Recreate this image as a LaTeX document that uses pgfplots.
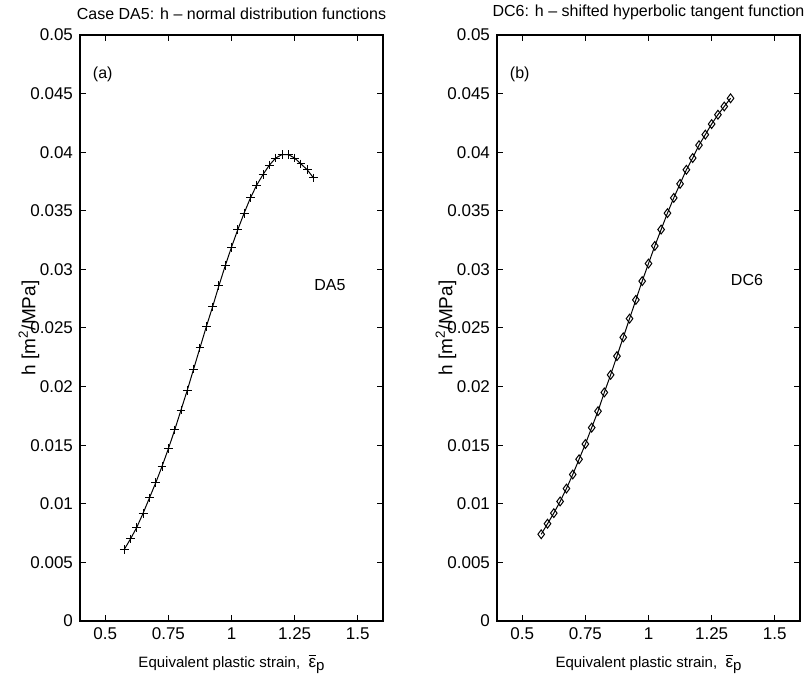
\documentclass[border=0pt]{standalone}
\usepackage{fontspec}
\setmainfont{Liberation Sans}
\usepackage{pgfplots}
\pgfplotsset{compat=1.18}

\pgfplotstableread{
x      h
0.575  0.0061
0.600  0.0070
0.625  0.0080
0.650  0.0092
0.675  0.0105
0.700  0.0118
0.725  0.0132
0.750  0.0147
0.775  0.0163
0.800  0.0180
0.825  0.0197
0.850  0.0215
0.875  0.0233
0.900  0.0251
0.925  0.0268
0.950  0.0286
0.975  0.0303
1.000  0.0319
1.025  0.0334
1.050  0.0348
1.075  0.0361
1.100  0.0372
1.125  0.0381
1.150  0.0389
1.175  0.0395
1.200  0.0398
1.225  0.0398
1.250  0.0395
1.275  0.0390
1.300  0.0385
1.325  0.0378
}\daFive

\pgfplotstableread{
x      h
0.575  0.0074
0.600  0.0083
0.625  0.0092
0.650  0.0102
0.675  0.0113
0.700  0.0125
0.725  0.0138
0.750  0.0151
0.775  0.0165
0.800  0.0179
0.825  0.0195
0.850  0.0210
0.875  0.0226
0.900  0.0242
0.925  0.0258
0.950  0.0274
0.975  0.0290
1.000  0.0305
1.025  0.0320
1.050  0.0334
1.075  0.0348
1.100  0.0361
1.125  0.0373
1.150  0.0385
1.175  0.0395
1.200  0.0406
1.225  0.0415
1.250  0.0424
1.275  0.0432
1.300  0.0439
1.325  0.0446
}\dcSix

\newcommand{\epsbar}{$\overline{\mbox{\fontsize{8.5}{10}\selectfont ε}}$\raisebox{-0.45ex}{p}}

\pgfplotsset{
  panel/.style={
    scale only axis,
    width=151.5pt, height=293pt,
    xmin=0.4, xmax=1.6, ymin=0, ymax=0.05,
    xtick={0.5,0.75,1,1.25,1.5},
    ytick={0,0.005,0.01,0.015,0.02,0.025,0.03,0.035,0.04,0.045,0.05},
    scaled y ticks=false,
    tick align=inside,
    major tick length=3pt,
    axis line style={line width=0.6pt},
    tick style={line width=0.5pt, black},
    /pgf/number format/fixed,
    /pgf/number format/precision=3,
    /pgf/number format/assume math mode=true,
    tick label style={font=\fontsize{8.5}{10}\selectfont},
    xlabel style={font=\fontsize{7.5}{9}\selectfont, at={(0.5,0)}, anchor=north, yshift=-13pt},
    ylabel style={font=\fontsize{9.5}{11}\selectfont, at={(0,0.5)}, anchor=center, yshift=25.5pt},
    title style={font=\fontsize{8}{9.5}\selectfont, at={(0.5,1)}, anchor=south, yshift=-2pt},
    xlabel={Equivalent plastic strain,\ \ \epsbar},
    ylabel={h [m\textsuperscript{2}/MPa]},
  }
}

\begin{document}
\begin{tikzpicture}
\useasboundingbox (0,0) rectangle (402pt,340.5pt);

\begin{axis}[panel, at={(40pt,30pt)}, anchor=south west,
  title={Case DA5: h -- normal distribution functions}]
\addplot[black, line width=0.5pt, mark=+, mark size=2.2pt,
  mark options={line width=0.5pt}] table[x=x, y=h] {\daFive};
\node[font=\fontsize{8}{9}\selectfont] at (axis cs:0.49,0.0466) {(a)};
\node[font=\fontsize{8}{9}\selectfont] at (axis cs:1.39,0.0287) {DA5};
\end{axis}

\begin{axis}[panel, at={(248.5pt,30pt)}, anchor=south west,
  title={DC6: h -- shifted hyperbolic tangent function}]
\addplot[black, line width=0.5pt, mark=diamond, mark size=2.2pt,
  mark options={line width=0.5pt}] table[x=x, y=h] {\dcSix};
\node[font=\fontsize{8}{9}\selectfont] at (axis cs:0.49,0.0466) {(b)};
\node[font=\fontsize{8}{9}\selectfont] at (axis cs:1.39,0.0291) {DC6};
\end{axis}
\end{tikzpicture}
\end{document}
